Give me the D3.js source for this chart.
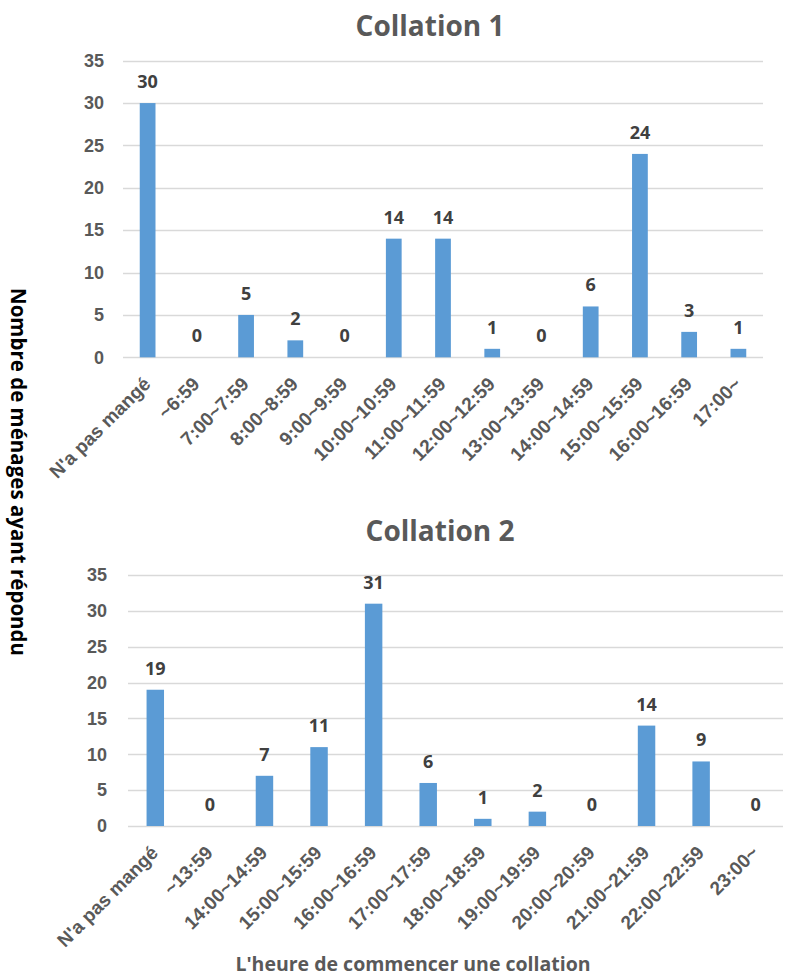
<!DOCTYPE html>
<html>
<head>
<meta charset="utf-8">
<script src="https://cdn.jsdelivr.net/npm/d3@7"></script>
<style>
  html, body { margin: 0; padding: 0; background: #fff; }
  svg { display: block; font-family: "Open Sans", "Liberation Sans", sans-serif; }
</style>
</head>
<body>
<svg id="chart" width="785" height="978"></svg>
<script>
// Snack start times, households per time slot
const categories1 = ["N'a pas mangé", "~6:59", "7:00~7:59", "8:00~8:59", "9:00~9:59",
  "10:00~10:59", "11:00~11:59", "12:00~12:59", "13:00~13:59", "14:00~14:59",
  "15:00~15:59", "16:00~16:59", "17:00~"];
const values1 = [30, 0, 5, 2, 0, 14, 14, 1, 0, 6, 24, 3, 1];

const categories2 = ["N'a pas mangé", "~13:59", "14:00~14:59", "15:00~15:59", "16:00~16:59",
  "17:00~17:59", "18:00~18:59", "19:00~19:59", "20:00~20:59", "21:00~21:59",
  "22:00~22:59", "23:00~"];
const values2 = [19, 0, 7, 11, 31, 6, 1, 2, 0, 14, 9, 0];

const yTicks = [0, 5, 10, 15, 20, 25, 30, 35];
const titles = ["Collation 1", "Collation 2"];
const yTitle = "Nombre de ménages ayant répondu";
const xTitle = "L'heure de commencer une collation";

const svg = d3.select("#chart");
const BAR = "#5B9BD5", GRID = "#D9D9D9", TICK = "#595959", VAL = "#404040";

function panel(cats, vals, title, box) {
  const g = svg.append("g");
  const x = d3.scaleBand().domain(cats).range([box.left, box.right])
    .paddingInner(0.68).paddingOuter(0.34);
  const y = d3.scaleLinear().domain([0, 35]).range([box.bottom, box.top]);

  // title
  g.append("text").attr("x", box.titleX).attr("y", box.titleY)
    .attr("text-anchor", "middle").attr("font-size", 28).attr("font-weight", 700)
    .attr("fill", TICK).text(title);

  // horizontal gridlines
  g.append("g").selectAll("line").data(yTicks).join("line")
    .attr("x1", box.left).attr("x2", box.right)
    .attr("y1", d => Math.round(y(d)) + 0.5).attr("y2", d => Math.round(y(d)) + 0.5)
    .attr("stroke", GRID).attr("stroke-width", 1.3);

  // y axis labels
  const yAxis = d3.axisLeft(y).tickValues(yTicks).tickSize(0).tickPadding(0);
  const ya = g.append("g").attr("transform", `translate(${box.yLabelX},0)`).call(yAxis);
  ya.select(".domain").remove();
  ya.selectAll("text").attr("font-size", 18).attr("font-weight", 700)
    .attr("fill", TICK).attr("font-family", null);

  // bars
  g.append("g").selectAll("rect").data(vals).join("rect")
    .attr("x", (d, i) => x(cats[i])).attr("width", x.bandwidth())
    .attr("y", d => y(d)).attr("height", d => y(0) - y(d))
    .attr("fill", BAR);

  // value labels
  g.append("g").selectAll("text").data(vals).join("text")
    .attr("x", (d, i) => x(cats[i]) + x.bandwidth() / 2)
    .attr("y", d => y(d) - 15)
    .attr("text-anchor", "middle").attr("font-size", 18).attr("font-weight", 700)
    .attr("fill", VAL).text(d => d);

  // x axis labels, rotated
  const xAxis = d3.axisBottom(x).tickSize(0).tickPadding(0);
  const xa = g.append("g").attr("transform", `translate(0,${box.bottom})`).call(xAxis);
  xa.select(".domain").remove();
  xa.selectAll("text")
    .attr("font-size", 19).attr("font-weight", 700).attr("fill", TICK)
    .attr("font-family", null)
    .attr("text-anchor", "end").attr("dy", null).attr("y", 0)
    .attr("transform", "translate(4,28) rotate(-45)");
}

panel(categories1, values1, titles[0],
  { left: 123, right: 763, top: 60.7, bottom: 357.3, yLabelX: 104, titleX: 430, titleY: 36 });
panel(categories2, values2, titles[1],
  { left: 128, right: 783, top: 575, bottom: 826, yLabelX: 107, titleX: 440, titleY: 541 });

// shared axis titles
svg.append("text")
  .attr("transform", "translate(11,472) rotate(90)")
  .attr("text-anchor", "middle").attr("font-size", 20.5).attr("font-weight", 700)
  .attr("fill", "#000").text(yTitle);

svg.append("text").attr("x", 413).attr("y", 971)
  .attr("text-anchor", "middle").attr("font-size", 19.5).attr("font-weight", 700)
  .attr("fill", TICK).text(xTitle);
</script>
</body>
</html>
